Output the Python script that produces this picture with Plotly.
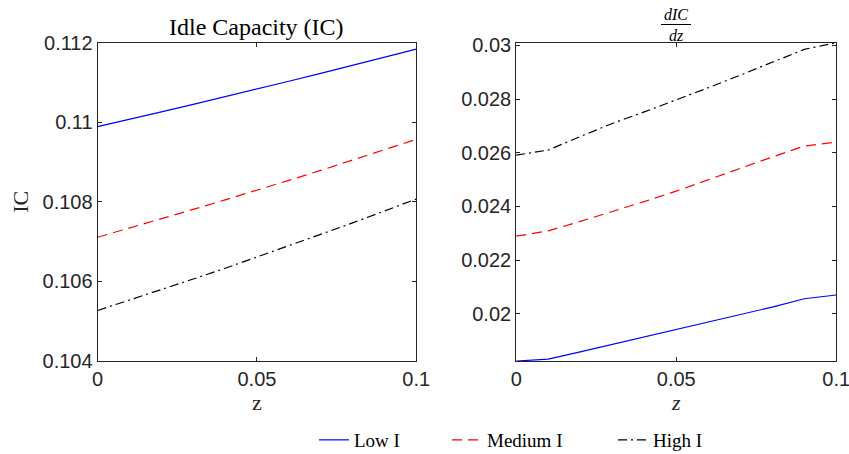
import plotly.graph_objects as go

z = [0.0, 0.01, 0.02, 0.03, 0.04, 0.05, 0.06, 0.07, 0.08, 0.09, 0.1]

ic_low = [0.10989, 0.11007, 0.11026, 0.11045, 0.11064, 0.11083, 0.11103, 0.11123, 0.11143, 0.11163, 0.11184]
ic_med = [0.10711, 0.10734, 0.10757, 0.10781, 0.10805, 0.10829, 0.10854, 0.10879, 0.10905, 0.10931, 0.10957]
ic_high = [0.10527, 0.10553, 0.10579, 0.10606, 0.10633, 0.10661, 0.10689, 0.10718, 0.10747, 0.10777, 0.10807]

dic_low = [0.01824, 0.01831, 0.01858, 0.01886, 0.01913, 0.01940, 0.01968, 0.01996, 0.02025, 0.02056, 0.02070]
dic_med = [0.02289, 0.02309, 0.02344, 0.02380, 0.02418, 0.02457, 0.02500, 0.02542, 0.02584, 0.02625, 0.02640]
dic_high = [0.02591, 0.02610, 0.02660, 0.02709, 0.02752, 0.02796, 0.02842, 0.02889, 0.02937, 0.02985, 0.03010]

series_names = ["Low I", "Medium I", "High I"]

x_ticks = [0, 0.05, 0.1]
x_ticklabels = ["0", "0.05", "0.1"]
y1_ticks = [0.104, 0.106, 0.108, 0.110, 0.112]
y1_ticklabels = ["0.104", "0.106", "0.108", "0.11", "0.112"]
y2_ticks = [0.020, 0.022, 0.024, 0.026, 0.028, 0.030]
y2_ticklabels = ["0.02", "0.022", "0.024", "0.026", "0.028", "0.03"]

styles = [
    dict(color="#0000ff", dash="solid", legend="legend"),
    dict(color="#ff0000", dash="10px,6px", legend="legend2"),
    dict(color="#000000", dash="9px,4px,2px,4px", legend="legend3"),
]

fig = go.Figure()
for name, ys, st in zip(series_names, [ic_low, ic_med, ic_high], styles):
    fig.add_trace(go.Scatter(x=z, y=ys, mode="lines", name=name,
                             line=dict(color=st["color"], dash=st["dash"], width=1.2),
                             xaxis="x", yaxis="y", showlegend=True, legend=st["legend"]))
for name, ys, st in zip(series_names, [dic_low, dic_med, dic_high], styles):
    fig.add_trace(go.Scatter(x=z, y=ys, mode="lines", name=name,
                             line=dict(color=st["color"], dash=st["dash"], width=1.2),
                             xaxis="x2", yaxis="y2", showlegend=False))

tickfont = dict(family="Liberation Sans, Arial, sans-serif", size=20, color="#262626")
serif = "Liberation Serif, Times New Roman, serif"
axis_common = dict(showline=True, linecolor="#262626", linewidth=1, mirror="ticks",
                   ticks="inside", ticklen=4, tickcolor="#262626", showgrid=False,
                   zeroline=False, tickfont=tickfont, ticklabeloverflow="allow")

legend_common = dict(orientation="h", yanchor="middle", y=1 - 440 / 454, xanchor="left",
                     font=dict(family=serif, size=19, color="#000000"),
                     bgcolor="rgba(0,0,0,0)", itemwidth=30)

fig.update_layout(
    width=849, height=454,
    margin=dict(l=0, r=0, t=0, b=0, autoexpand=False),
    paper_bgcolor="white", plot_bgcolor="white",
    xaxis=dict(domain=[0.115, 0.4903], range=[0, 0.1], tickvals=x_ticks, ticktext=x_ticklabels,
               anchor="y", title=dict(text="z", font=dict(family=serif, size=22, color="#262626"), standoff=4),
               **axis_common),
    yaxis=dict(domain=[0.2048, 0.906], range=[0.104, 0.112], tickvals=y1_ticks, ticktext=y1_ticklabels,
               anchor="x", title=dict(text="IC", font=dict(family=serif, size=22, color="#262626"), standoff=7),
               **axis_common),
    xaxis2=dict(domain=[0.608, 0.985], range=[0, 0.1], tickvals=x_ticks, ticktext=x_ticklabels,
                anchor="y2", title=dict(text="<i>z</i>", font=dict(family=serif, size=22, color="#262626"), standoff=4),
                **axis_common),
    yaxis2=dict(domain=[0.2048, 0.906], range=[0.01824, 0.0301], tickvals=y2_ticks, ticktext=y2_ticklabels,
                anchor="x2", **axis_common),
    legend=dict(x=314 / 849, **legend_common),
    legend2=dict(x=447 / 849, **legend_common),
    legend3=dict(x=613 / 849, **legend_common),
    annotations=[
        dict(text="Idle Capacity (IC)", x=0.3025, y=1 - 27 / 454, xref="paper", yref="paper",
             xanchor="center", yanchor="middle", showarrow=False,
             font=dict(family=serif, size=24, color="#000000")),
        dict(text="<i>dIC</i>", x=676 / 849, y=1 - 24 / 454, xref="paper", yref="paper",
             xanchor="center", yanchor="bottom", showarrow=False, borderpad=0,
             font=dict(family=serif, size=16, color="#000000")),
        dict(text="<i>dz</i>", x=676 / 849, y=1 - 25.5 / 454, xref="paper", yref="paper",
             xanchor="center", yanchor="top", showarrow=False, borderpad=0,
             font=dict(family=serif, size=16, color="#000000")),
    ],
    shapes=[
        dict(type="line", xref="paper", yref="paper", x0=661 / 849, x1=691 / 849,
             y0=1 - 24.5 / 454, y1=1 - 24.5 / 454, line=dict(color="#000000", width=1)),
    ],
)

fig.write_html("out.html", config={"displayModeBar": False},
               post_script="document.body.style.margin='0';")
